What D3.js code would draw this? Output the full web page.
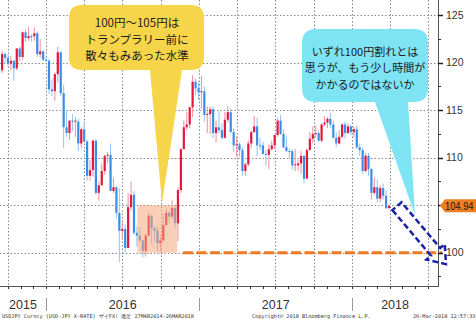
<!DOCTYPE html>
<html>
<head>
<meta charset="utf-8">
<title>USDJPY weekly</title>
<script src="https://cdn.jsdelivr.net/npm/d3@7"></script>
<style>
  body { margin: 0; background: #fff; }
  svg { display: block; }
  .jp { font-family: "Noto Sans CJK JP", sans-serif; fill: #1a1a1a; }
  .num { font-family: "Liberation Sans Narrow", "Liberation Sans", Arial, sans-serif; fill: #333; }
  .foot { font-family: "DejaVu Sans Mono", monospace; font-size: 5.2px; fill: #333; }
</style>
</head>
<body>
<svg id="chart" width="476" height="322"></svg>
<script>
// weekly USDJPY candles (week ending Friday)
const weeks = [
  "2015-09-18","2015-09-25","2015-10-02","2015-10-09","2015-10-16","2015-10-23","2015-10-30","2015-11-06","2015-11-13","2015-11-20","2015-11-27","2015-12-04","2015-12-11","2015-12-18","2015-12-25",
  "2016-01-01","2016-01-08","2016-01-15","2016-01-22","2016-01-29","2016-02-05","2016-02-12","2016-02-19","2016-02-26","2016-03-04","2016-03-11","2016-03-18","2016-03-25","2016-04-01","2016-04-08","2016-04-15","2016-04-22","2016-04-29","2016-05-06","2016-05-13","2016-05-20","2016-05-27","2016-06-03","2016-06-10","2016-06-17","2016-06-24","2016-07-01","2016-07-08","2016-07-15","2016-07-22","2016-07-29","2016-08-05","2016-08-12","2016-08-19","2016-08-26","2016-09-02","2016-09-09","2016-09-16","2016-09-23","2016-09-30","2016-10-07","2016-10-14","2016-10-21","2016-10-28","2016-11-04","2016-11-11","2016-11-18","2016-11-25","2016-12-02","2016-12-09","2016-12-16","2016-12-23","2016-12-30",
  "2017-01-06","2017-01-13","2017-01-20","2017-01-27","2017-02-03","2017-02-10","2017-02-17","2017-02-24","2017-03-03","2017-03-10","2017-03-17","2017-03-24","2017-03-31","2017-04-07","2017-04-14","2017-04-21","2017-04-28","2017-05-05","2017-05-12","2017-05-19","2017-05-26","2017-06-02","2017-06-09","2017-06-16","2017-06-23","2017-06-30","2017-07-07","2017-07-14","2017-07-21","2017-07-28","2017-08-04","2017-08-11","2017-08-18","2017-08-25","2017-09-01","2017-09-08","2017-09-15","2017-09-22","2017-09-29","2017-10-06","2017-10-13","2017-10-20","2017-10-27","2017-11-03","2017-11-10","2017-11-17","2017-11-24","2017-12-01","2017-12-08","2017-12-15","2017-12-22","2017-12-29",
  "2018-01-05","2018-01-12","2018-01-19","2018-01-26","2018-02-02","2018-02-09","2018-02-16","2018-02-23","2018-03-02","2018-03-09","2018-03-16","2018-03-23","2018-03-30"
];
const opens = [
  119.2,120.9,120.5,119.9,120.2,119.4,121.5,120.6,123.2,122.6,122.8,122.8,123.1,120.9,121.2,
  120.3,120.2,117.2,117.0,118.8,121.1,116.8,113.2,112.6,113.9,113.8,113.8,111.5,113.0,111.7,108.1,108.7,111.8,106.3,107.1,108.6,110.2,110.3,106.5,106.9,104.2,102.3,102.5,100.5,104.8,106.1,102.1,101.8,101.3,100.2,101.8,103.9,102.6,102.3,101.0,101.3,102.9,104.2,103.8,104.7,103.1,106.6,110.9,113.2,113.5,115.3,118.0,117.3,
  116.9,117.0,114.5,114.6,115.1,112.6,113.2,112.9,112.1,114.0,114.8,112.7,111.3,111.4,110.8,108.6,109.3,111.5,112.7,113.3,111.3,111.3,110.4,110.3,110.9,111.3,112.4,113.9,112.5,111.1,110.7,110.7,109.2,109.2,109.4,110.2,107.8,110.8,112.0,112.5,112.6,111.8,113.5,113.7,114.1,113.5,112.1,111.5,112.2,113.5,112.6,113.3,
  112.7,113.0,111.1,110.8,108.6,110.2,108.8,106.3,106.9,105.7,106.8,106.0,104.7
];
const highs = [
  121.3,121.1,120.9,120.7,120.3,121.5,121.7,123.3,123.6,123.8,123.0,123.7,123.3,122.5,121.3,
  120.6,120.4,118.3,118.9,121.7,121.2,117.7,114.9,114.0,114.6,114.3,114.1,113.2,113.8,111.9,109.8,111.9,111.9,107.5,109.4,110.3,110.6,111.5,107.9,107.0,106.8,103.4,103.0,106.3,107.5,106.5,102.8,102.7,101.3,102.0,104.2,104.0,102.8,102.8,101.9,104.0,104.6,104.3,105.5,105.1,106.9,111.0,113.9,114.8,115.4,118.7,118.3,118.0,
  118.6,117.5,115.4,115.4,115.4,113.9,114.9,113.6,114.8,115.5,115.2,113.1,112.2,111.6,111.1,109.5,111.8,112.9,114.4,114.2,112.1,111.7,110.8,111.4,111.8,112.4,114.2,114.5,113.0,112.2,111.0,110.9,110.9,109.8,110.7,110.2,111.0,112.7,113.3,113.4,112.9,113.6,114.4,114.3,114.7,113.9,112.7,112.9,113.6,113.8,113.6,113.4,
  113.3,113.4,111.5,111.1,110.5,110.5,108.9,107.9,107.7,107.1,107.3,106.6,105.0
];
const lows = [
  118.9,119.9,119.6,119.2,118.1,119.2,120.1,120.3,122.2,122.3,122.2,122.3,120.6,120.5,120.2,
  120.1,116.7,116.5,116.0,117.9,116.5,111.0,112.2,111.9,112.8,112.2,110.7,111.0,111.6,107.6,107.6,108.0,106.1,105.5,107.0,108.2,109.4,106.5,106.3,103.6,99.0,101.5,100.0,100.5,104.4,101.9,100.7,101.2,99.5,99.6,101.8,100.9,101.2,100.1,100.1,101.2,102.9,103.1,103.5,102.6,101.2,106.3,110.9,112.9,113.1,114.3,116.6,116.1,
  115.1,113.8,112.6,112.5,112.1,111.6,112.6,111.9,112.0,113.7,112.6,110.6,110.1,110.1,108.1,108.1,109.1,111.0,112.6,110.2,110.8,110.3,109.1,108.8,110.7,110.9,112.2,112.4,111.0,110.6,109.9,108.7,108.6,108.6,108.3,107.3,107.8,110.8,111.5,112.1,111.7,111.6,113.3,113.1,113.1,112.0,111.1,111.4,112.0,112.0,112.5,112.4,
  112.1,110.9,110.2,108.3,108.5,108.1,105.6,106.1,105.3,105.3,105.6,104.6,104.6
];
const closes = [
  120.9,120.5,119.9,120.2,119.4,121.5,120.6,123.2,122.6,122.8,122.7,123.1,120.9,121.2,120.3,
  120.2,117.2,117.0,118.8,121.1,116.8,113.2,112.6,113.9,113.8,113.9,111.5,113.0,111.7,108.1,108.7,111.8,106.3,107.1,108.6,110.2,110.3,106.5,106.9,104.2,102.3,102.5,100.5,104.8,106.1,102.1,101.8,101.3,100.2,101.8,103.9,102.6,102.3,101.0,101.3,102.9,104.2,103.8,104.7,103.1,106.6,110.9,113.2,113.5,115.3,118.0,117.3,116.9,
  117.0,114.5,114.6,115.1,112.6,113.2,112.9,112.1,114.0,114.8,112.7,111.3,111.4,110.8,108.6,109.3,111.5,112.7,113.3,111.3,111.2,110.4,110.3,110.9,111.3,112.4,113.9,112.5,111.1,110.7,110.6,109.2,109.3,109.4,110.2,107.8,110.8,112.0,112.5,112.6,111.8,113.5,113.7,114.1,113.5,112.1,111.5,112.2,113.5,112.6,113.3,112.7,
  113.0,111.1,110.8,108.6,110.2,108.8,106.3,106.9,105.7,106.8,106.0,104.7,104.94
];

const yTicks = [100, 105, 110, 115, 120, 125];
const yearLabels = ["2015", "2016", "2017", "2018"];
const lastPrice = 104.94;

// annotations, in data space
const rangeBox = { from: "2016-08-06", to: "2016-11-09", low: 100, high: 105 };
const supportLine = { from: "2016-11-23", level: 100 };
const arrowFrom = ["2018-04-18", 104.9];
const arrowTo = ["2018-08-13", 98.8];

const yellowLines = ["100円〜105円は", "トランプラリー前に", "散々もみあった水準"];
const cyanLines = ["いずれ100円割れとは", "思うが、もう少し時間が", "かかるのではないか"];
const footLeft = "USDJPY Curncy (USD-JPY X-RATE) ザイFX! 週足 27MAR2014-26MAR2018";
const footMid = "Copyright© 2018 Bloomberg Finance L.P.";
const footRight = "26-Mar-2018 12:57:33";

const parse = d3.timeParse("%Y-%m-%d");
const plotW = 438, plotH = 286;
const svg = d3.select("#chart");

const x = d3.scaleTime()
  .domain([new Date(2015, 8, 13), new Date(2018, 6, 25)])
  .range([0, plotW]);
const y = d3.scaleLinear().domain([96.5, 126.6]).range([plotH, 0]);

// grid
const quarters = d3.timeMonth.every(3).range(x.domain()[0], x.domain()[1]);
svg.append("g").selectAll("line").data(quarters).join("line")
  .attr("x1", d => Math.round(x(d)) + 0.5).attr("x2", d => Math.round(x(d)) + 0.5)
  .attr("y1", 0).attr("y2", plotH)
  .attr("stroke", "#8a8a8a").attr("stroke-dasharray", "1.5,2");
svg.append("g").selectAll("line").data(yTicks).join("line")
  .attr("x1", 0).attr("x2", plotW)
  .attr("y1", d => Math.round(y(d)) + 0.5).attr("y2", d => Math.round(y(d)) + 0.5)
  .attr("stroke", "#8a8a8a").attr("stroke-dasharray", "1.5,2");

// candles
const candles = weeks.map((w, i) => ({ d: parse(w), o: opens[i], h: highs[i], l: lows[i], c: closes[i] }));
const up = d => d.c >= d.o;
const cg = svg.append("g");
cg.selectAll("line").data(candles).join("line")
  .attr("x1", d => x(d.d)).attr("x2", d => x(d.d))
  .attr("y1", d => y(d.h)).attr("y2", d => y(d.l))
  .attr("stroke", d => up(d) ? "#f28ea2" : "#94c2f2").attr("stroke-width", 1);
cg.selectAll("rect").data(candles).join("rect")
  .attr("x", d => x(d.d) - 1.1).attr("width", 2.2)
  .attr("y", d => y(Math.max(d.o, d.c)))
  .attr("height", d => Math.max(1, Math.abs(y(d.o) - y(d.c))))
  .attr("fill", d => up(d) ? "#e5173d" : "#3a8ee8");

// range box
svg.append("rect")
  .attr("x", x(parse(rangeBox.from))).attr("width", x(parse(rangeBox.to)) - x(parse(rangeBox.from)))
  .attr("y", y(rangeBox.high)).attr("height", y(rangeBox.low) - y(rangeBox.high))
  .attr("fill", "#f4a77c").attr("fill-opacity", 0.55);

// support line at 100
svg.append("line")
  .attr("x1", x(parse(supportLine.from))).attr("x2", plotW + 4)
  .attr("y1", y(supportLine.level)).attr("y2", y(supportLine.level))
  .attr("stroke", "#f07a22").attr("stroke-width", 3).attr("stroke-dasharray", "10,3.5");

// axes
svg.append("line").attr("x1", plotW + 0.5).attr("x2", plotW + 0.5).attr("y1", 0).attr("y2", plotH + 1)
  .attr("stroke", "#555");
svg.append("line").attr("x1", 0).attr("x2", plotW + 1).attr("y1", plotH + 0.5).attr("y2", plotH + 0.5)
  .attr("stroke", "#555");

const minor = d3.range(97.5, 126, 2.5).filter(v => !yTicks.includes(v));
svg.append("g").selectAll("line").data(minor).join("line")
  .attr("x1", plotW).attr("x2", plotW + 3)
  .attr("y1", d => Math.round(y(d)) + 0.5).attr("y2", d => Math.round(y(d)) + 0.5)
  .attr("stroke", "#333");
svg.append("g").selectAll("line").data(yTicks).join("line")
  .attr("x1", plotW).attr("x2", plotW + 5)
  .attr("y1", d => Math.round(y(d)) + 0.5).attr("y2", d => Math.round(y(d)) + 0.5)
  .attr("stroke", "#222").attr("stroke-width", 1.5);
// the last-price tag hides the tick label it sits on
svg.append("g").selectAll("text").data(yTicks.filter(v => Math.abs(v - lastPrice) > 1.5)).join("text")
  .attr("class", "num").attr("font-size", 10.5)
  .attr("x", plotW + 8).attr("y", d => y(d)).attr("dy", "0.35em")
  .text(d => d);

const months = d3.timeMonth.range(x.domain()[0], x.domain()[1]);
svg.append("g").selectAll("line").data(months).join("line")
  .attr("x1", d => Math.round(x(d)) + 0.5).attr("x2", d => Math.round(x(d)) + 0.5)
  .attr("y1", plotH).attr("y2", plotH + 3)
  .attr("stroke", "#333");

const yearStarts = yearLabels.slice(1).map(s => new Date(+s, 0, 1));
svg.append("g").selectAll("line").data(yearStarts).join("line")
  .attr("x1", d => Math.round(x(d)) + 0.5).attr("x2", d => Math.round(x(d)) + 0.5)
  .attr("y1", plotH + 12).attr("y2", plotH + 25)
  .attr("stroke", "#999");
svg.append("g").selectAll("text").data(yearLabels).join("text")
  .attr("class", "num").attr("font-size", 12.5).attr("text-anchor", "middle")
  .attr("x", s => {
    const a = d3.max([x.domain()[0], new Date(+s, 0, 1)]);
    const b = d3.min([x.domain()[1], new Date(+s + 1, 0, 1)]);
    return (x(a) + x(b)) / 2;
  })
  .attr("y", plotH + 23)
  .text(s => s);

// yellow callout
svg.append("path")
  .attr("d", `M69,18 Q69,5 82,5 L191,5 Q204,5 204,18 L204,57 Q204,70 191,70 L182,70 L162,203 L150,70 L82,70 Q69,70 69,57 Z`)
  .attr("fill", "#f6d54a");
svg.append("g").selectAll("text").data(yellowLines).join("text")
  .attr("class", "jp").attr("font-size", 11.5).attr("text-anchor", "middle")
  .attr("x", 137).attr("y", (d, i) => 23 + i * 16.5).attr("dy", "0.36em")
  .text(d => d);

// cyan callout
svg.append("path")
  .attr("d", `M302,43 Q302,29 316,29 L414,29 Q428,29 428,43 L428,88 Q428,102 414,102 L408,102 L415,215 L375,102 L316,102 Q302,102 302,88 Z`)
  .attr("fill", "#7ee4f4");
svg.append("g").selectAll("text").data(cyanLines).join("text")
  .attr("class", "jp").attr("font-size", 11).attr("text-anchor", "middle")
  .attr("x", 365).attr("y", (d, i) => 52 + i * 16.5).attr("dy", "0.36em")
  .text(d => d);

// dashed block arrow
(function () {
  const p0 = [x(parse(arrowFrom[0])), y(arrowFrom[1])];
  const p1 = [x(parse(arrowTo[0])), y(arrowTo[1])];
  const dx = p1[0] - p0[0], dy = p1[1] - p0[1];
  const len = Math.hypot(dx, dy);
  const ux = dx / len, uy = dy / len, nx = -uy, ny = ux;
  const sw = 6, hw = 12, hl = 16;
  const hb = [p1[0] - ux * hl, p1[1] - uy * hl];
  const pts = [
    [p0[0] + nx * sw, p0[1] + ny * sw],
    [hb[0] + nx * sw, hb[1] + ny * sw],
    [hb[0] + nx * hw, hb[1] + ny * hw],
    p1,
    [hb[0] - nx * hw, hb[1] - ny * hw],
    [hb[0] - nx * sw, hb[1] - ny * sw],
    [p0[0] - nx * sw, p0[1] - ny * sw]
  ];
  svg.append("path")
    .attr("d", d3.line()(pts) + "Z")
    .attr("fill", "none").attr("stroke", "#1b22a6").attr("stroke-width", 2.5)
    .attr("stroke-dasharray", "6,3");
})();

// last price tag
const ty = y(lastPrice);
svg.append("path")
  .attr("d", `M${plotW + 2},${ty} L${plotW + 7},${ty - 6.5} L476,${ty - 6.5} L476,${ty + 6.5} L${plotW + 7},${ty + 6.5} Z`)
  .attr("fill", "#f07d1e");
svg.append("text")
  .attr("x", plotW + 7).attr("y", ty).attr("dy", "0.36em")
  .attr("font-family", "'Liberation Sans', Arial, sans-serif").attr("font-size", 10.5).attr("fill", "#1a1a1a")
  .attr("textLength", 28.5).attr("lengthAdjust", "spacingAndGlyphs")
  .text(lastPrice.toFixed(2));

// footer
svg.append("text").attr("class", "foot").attr("x", 2).attr("y", 318).text(footLeft);
svg.append("text").attr("class", "foot").attr("x", 252).attr("y", 318).text(footMid);
svg.append("text").attr("class", "foot").attr("x", 413).attr("y", 318).text(footRight);
</script>
</body>
</html>
